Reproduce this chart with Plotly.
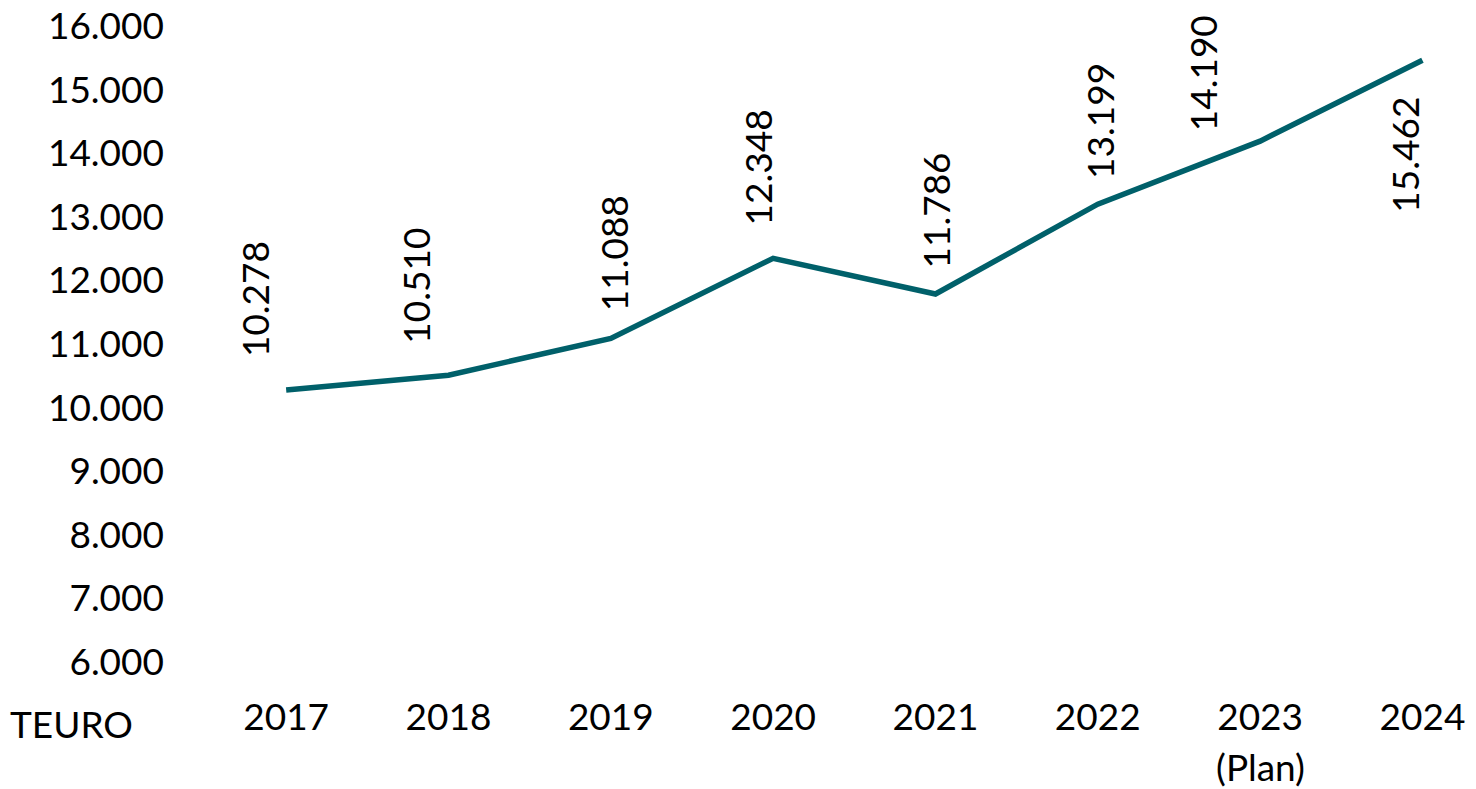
import plotly.graph_objects as go

years = ["2017", "2018", "2019", "2020", "2021", "2022", "2023 (Plan)", "2024"]
tick_labels = ["2017", "2018", "2019", "2020", "2021", "2022", "2023", "2024"]
plan_note = "(Plan)"
plan_index = 6
values = [10278, 10510, 11088, 12348, 11786, 13199, 14190, 15462]
value_labels = ["10.278", "10.510", "11.088", "12.348", "11.786", "13.199", "14.190", "15.462"]
y_ticks = [6000, 7000, 8000, 9000, 10000, 11000, 12000, 13000, 14000, 15000, 16000]
y_tick_labels = ["6.000", "7.000", "8.000", "9.000", "10.000", "11.000", "12.000",
                 "13.000", "14.000", "15.000", "16.000"]
unit_label = "TEURO"

# label placement (pixels) for each data label
label_xshift = [-31, -33, 3, -16, 0, 1, -58, -18]
label_gap = [31, 30, 25, 31, 24, 23, 8, 34]
label_below = [False, False, False, False, False, False, False, True]

FONT = "Lato, 'Open Sans', sans-serif"
LINE_COLOR = "#00606A"

W, H = 1476, 789
L, R, T, B = 205, 0, 26, 127

x_idx = list(range(len(years)))

fig = go.Figure()
fig.add_trace(go.Scatter(
    x=x_idx, y=values, mode="lines",
    line=dict(color=LINE_COLOR, width=5.5),
    hoverinfo="skip", showlegend=False,
))

for i, (v, lab) in enumerate(zip(values, value_labels)):
    below = label_below[i]
    fig.add_annotation(
        x=i, y=v, xref="x", yref="y", text=lab, showarrow=False,
        textangle=-90, xanchor="center",
        yanchor="top" if below else "bottom",
        xshift=label_xshift[i],
        yshift=-label_gap[i] if below else label_gap[i],
        font=dict(family=FONT, size=37, color="#000000"),
    )

def py(pix):
    return (H - B - pix) / (H - B - T)

def px(pix):
    return (pix - L) / (W - L - R)

fig.add_annotation(
    x=px(71), y=py(723), xref="paper", yref="paper", text=unit_label,
    showarrow=False, xanchor="center", yanchor="middle",
    font=dict(family=FONT, size=37, color="#000000"),
)
fig.add_annotation(
    x=plan_index, y=py(766), xref="x", yref="paper", text=plan_note,
    showarrow=False, xanchor="center", yanchor="middle", borderpad=0,
    font=dict(family=FONT, size=37, color="#000000"),
)

fig.update_layout(
    width=W, height=H,
    margin=dict(l=L, r=R, t=T, b=B),
    paper_bgcolor="white", plot_bgcolor="white",
    font=dict(family=FONT, size=37, color="#000000"),
    xaxis=dict(
        range=[-0.5, 7.33], tickmode="array", tickvals=x_idx, ticktext=tick_labels,
        showgrid=False, zeroline=False, showline=False, ticks="",
        ticklabelstandoff=30,
        tickfont=dict(family=FONT, size=37, color="#000000"),
    ),
    yaxis=dict(
        range=[6000, 16000], tickmode="array", tickvals=y_ticks, ticktext=y_tick_labels,
        showgrid=False, zeroline=False, showline=False, ticks="",
        ticklabelstandoff=40,
        tickfont=dict(family=FONT, size=37, color="#000000"),
    ),
)

fig.write_html(
    "out.html",
    config={"displayModeBar": False},
    post_script="document.body.style.margin='0';document.body.style.overflow='hidden';",
)
